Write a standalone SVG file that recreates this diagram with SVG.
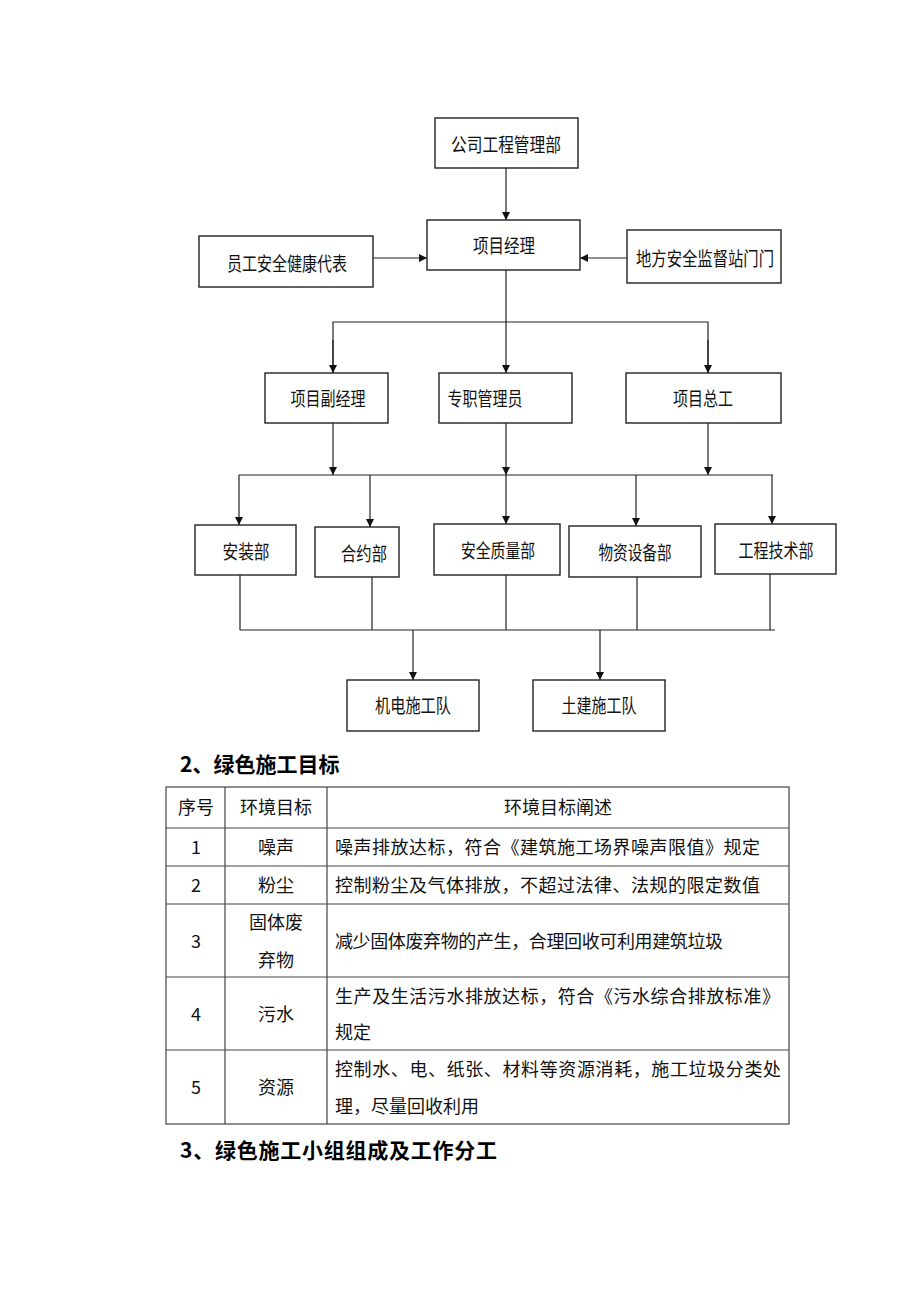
<svg xmlns="http://www.w3.org/2000/svg" width="920" height="1302" viewBox="0 0 920 1302">
<style>
.box{fill:#fff;stroke:#222;stroke-width:1.4}
.lbl{font-family:"Noto Sans CJK SC","Noto Sans",sans-serif;font-size:19px;fill:#111;text-anchor:middle;dominant-baseline:central}
.ln{stroke:#222;stroke-width:1.2;fill:none}
.ar{stroke:#222;stroke-width:1.2;fill:none;marker-end:url(#ah)}
.h{font-family:"Noto Sans CJK SC","Noto Sans",sans-serif;font-size:21px;font-weight:bold;fill:#000}
.t{font-family:"Noto Sans CJK SC","Noto Sans",sans-serif;font-size:18px;fill:#111}
.c{text-anchor:middle}
.grid{stroke:#444;stroke-width:1.2;fill:none}
</style>
<defs>
<marker id="ah" markerWidth="8" markerHeight="8" refX="8" refY="4" orient="auto" markerUnits="userSpaceOnUse">
<path d="M0,0 L8,4 L0,8 Z" fill="#111"/>
</marker>
</defs>
<rect width="920" height="1302" fill="#fff"/>
<g id="connectors">
<line class="ar" x1="506" y1="168" x2="506" y2="220"/>
<line class="ar" x1="373" y1="258" x2="427" y2="258"/>
<line class="ar" x1="627" y1="258" x2="580" y2="258"/>
<line class="ar" x1="506" y1="270" x2="506" y2="373"/>
<polyline class="ln" points="333,373 333,322 708,322 708,373"/>
<line class="ar" x1="333" y1="340" x2="333" y2="373"/>
<line class="ar" x1="708" y1="340" x2="708" y2="373"/>
<line class="ar" x1="333" y1="423" x2="333" y2="475"/>
<line class="ar" x1="506" y1="423" x2="506" y2="475"/>
<line class="ar" x1="708" y1="423" x2="708" y2="475"/>
<line class="ln" x1="239" y1="475" x2="773" y2="475"/>
<line class="ar" x1="239" y1="475" x2="239" y2="525"/>
<line class="ar" x1="370" y1="475" x2="370" y2="527"/>
<line class="ar" x1="506" y1="475" x2="506" y2="524"/>
<line class="ar" x1="636" y1="475" x2="636" y2="526"/>
<line class="ar" x1="772" y1="475" x2="772" y2="524"/>
<line class="ln" x1="240" y1="575" x2="240" y2="630"/>
<line class="ln" x1="372" y1="577" x2="372" y2="630"/>
<line class="ln" x1="506" y1="575" x2="506" y2="630"/>
<line class="ln" x1="637" y1="577" x2="637" y2="630"/>
<line class="ln" x1="770" y1="574" x2="770" y2="630"/>
<line class="ln" x1="240" y1="630" x2="775" y2="630"/>
<line class="ar" x1="413" y1="630" x2="413" y2="680"/>
<line class="ar" x1="600" y1="630" x2="600" y2="680"/>
</g>
<g id="n_gongsi"><rect class="box" x="435" y="118" width="143" height="50"/><text class="lbl" x="506" y="143" textLength="110" lengthAdjust="spacingAndGlyphs">公司工程管理部</text></g>
<g id="n_xmjl"><rect class="box" x="427" y="220" width="153" height="50"/><text class="lbl" x="504" y="244" textLength="62" lengthAdjust="spacingAndGlyphs">项目经理</text></g>
<g id="n_yuangong"><rect class="box" x="199" y="236" width="174" height="51"/><text class="lbl" x="287" y="262" textLength="120" lengthAdjust="spacingAndGlyphs">员工安全健康代表</text></g>
<g id="n_difang"><rect class="box" x="627" y="230" width="154" height="53"/><text class="lbl" x="705" y="257" textLength="138" lengthAdjust="spacingAndGlyphs">地方安全监督站门门</text></g>
<g id="n_fujl"><rect class="box" x="265" y="373" width="123" height="50"/><text class="lbl" x="328" y="397" textLength="75" lengthAdjust="spacingAndGlyphs">项目副经理</text></g>
<g id="n_zhuanzhi"><rect class="box" x="439" y="373" width="133" height="50"/><text class="lbl" x="485" y="397" textLength="75" lengthAdjust="spacingAndGlyphs">专职管理员</text></g>
<g id="n_zonggong"><rect class="box" x="626" y="373" width="155" height="50"/><text class="lbl" x="703" y="397" textLength="60" lengthAdjust="spacingAndGlyphs">项目总工</text></g>
<g id="n_anzhuang"><rect class="box" x="195" y="525" width="101" height="50"/><text class="lbl" x="246" y="550" textLength="47" lengthAdjust="spacingAndGlyphs">安装部</text></g>
<g id="n_heyue"><rect class="box" x="315" y="527" width="84" height="50"/><text class="lbl" x="364" y="552" textLength="46" lengthAdjust="spacingAndGlyphs">合约部</text></g>
<g id="n_anquan"><rect class="box" x="434" y="524" width="126" height="51"/><text class="lbl" x="498" y="549" textLength="74" lengthAdjust="spacingAndGlyphs">安全质量部</text></g>
<g id="n_wuzi"><rect class="box" x="569" y="526" width="132" height="51"/><text class="lbl" x="635" y="551" textLength="73" lengthAdjust="spacingAndGlyphs">物资设备部</text></g>
<g id="n_gongcheng"><rect class="box" x="715" y="524" width="121" height="50"/><text class="lbl" x="776" y="549" textLength="75" lengthAdjust="spacingAndGlyphs">工程技术部</text></g>
<g id="n_jidian"><rect class="box" x="347" y="680" width="132" height="51"/><text class="lbl" x="413" y="704" textLength="76" lengthAdjust="spacingAndGlyphs">机电施工队</text></g>
<g id="n_tujian"><rect class="box" x="533" y="680" width="132" height="51"/><text class="lbl" x="599" y="704" textLength="75" lengthAdjust="spacingAndGlyphs">土建施工队</text></g>
<text class="h" x="180" y="772">2、绿色施工目标</text>
<g id="table">
<rect class="grid" x="166" y="787" width="623" height="337"/>
<line class="grid" x1="225" y1="787" x2="225" y2="1124"/>
<line class="grid" x1="327" y1="787" x2="327" y2="1124"/>
<line class="grid" x1="166" y1="828" x2="789" y2="828"/>
<line class="grid" x1="166" y1="866" x2="789" y2="866"/>
<line class="grid" x1="166" y1="904" x2="789" y2="904"/>
<line class="grid" x1="166" y1="977" x2="789" y2="977"/>
<line class="grid" x1="166" y1="1050" x2="789" y2="1050"/>
<text class="t c" x="196" y="814">序号</text>
<text class="t c" x="276" y="814">环境目标</text>
<text class="t c" x="558" y="814">环境目标阐述</text>
<text class="t c" x="196" y="854">1</text>
<text class="t c" x="276" y="854">噪声</text>
<text class="t" x="335" y="854" textLength="425">噪声排放达标，符合《建筑施工场界噪声限值》规定</text>
<text class="t c" x="196" y="892">2</text>
<text class="t c" x="276" y="892">粉尘</text>
<text class="t" x="335" y="892" textLength="425">控制粉尘及气体排放，不超过法律、法规的限定数值</text>
<text class="t c" x="196" y="948">3</text>
<text class="t c" x="276" y="929">固体废</text>
<text class="t c" x="276" y="967">弃物</text>
<text class="t" x="335" y="948" textLength="388">减少固体废弃物的产生，合理回收可利用建筑垃圾</text>
<text class="t c" x="196" y="1021">4</text>
<text class="t c" x="276" y="1021">污水</text>
<text class="t" x="335" y="1003" textLength="445">生产及生活污水排放达标，符合《污水综合排放标准》</text>
<text class="t" x="335" y="1039">规定</text>
<text class="t c" x="196" y="1094">5</text>
<text class="t c" x="276" y="1094">资源</text>
<text class="t" x="335" y="1076" textLength="446">控制水、电、纸张、材料等资源消耗，施工垃圾分类处</text>
<text class="t" x="335" y="1113">理，尽量回收利用</text>
</g>
<text class="h" x="180" y="1158" textLength="317">3、绿色施工小组组成及工作分工</text>
</svg>
